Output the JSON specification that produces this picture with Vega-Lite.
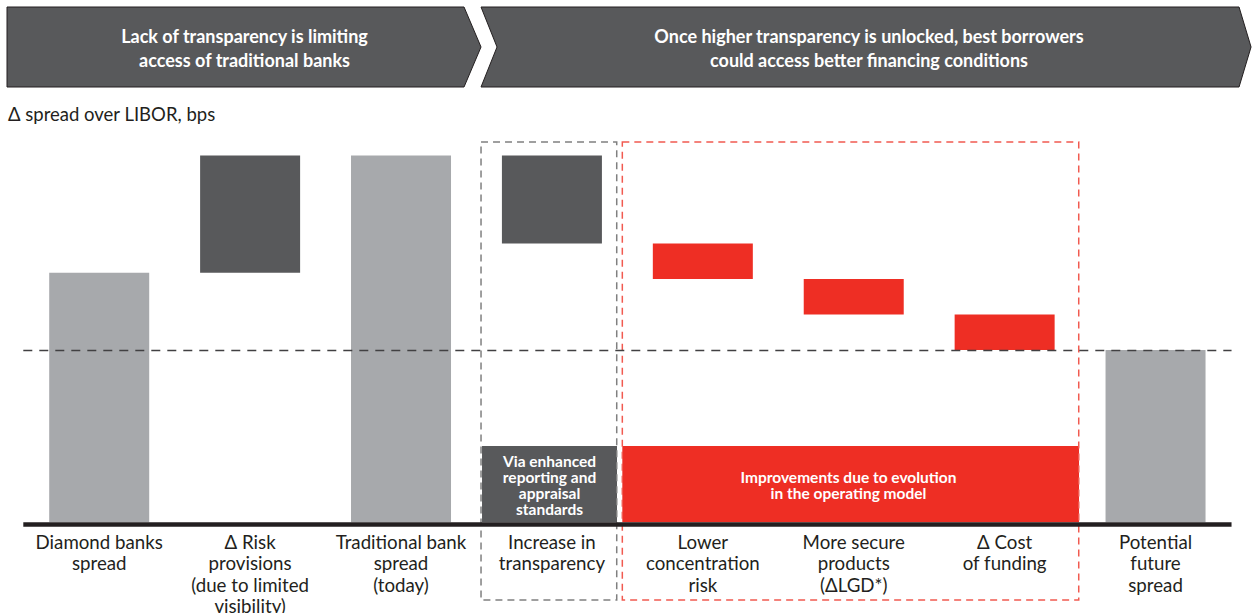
{
  "$schema": "https://vega.github.io/schema/vega-lite/v6.json",
  "width": 1252,
  "height": 613,
  "padding": 0,
  "autosize": {"type": "none"},
  "background": "white",
  "config": {"view": {"stroke": null}, "text": {"font": "Lato"}, "scale": {"continuousPadding": 0}},
  "datasets": {
    "cats": [
      {"col": 0, "label": "Diamond banks\nspread", "start": 0, "end": 204, "kind": "total"},
      {"col": 1, "label": "Δ Risk\nprovisions\n(due to limited\nvisibility)", "start": 204, "end": 300, "kind": "dark"},
      {"col": 2, "label": "Traditional bank\nspread\n(today)", "start": 0, "end": 300, "kind": "total"},
      {"col": 3, "label": "Increase in\ntransparency", "start": 300, "end": 228, "kind": "dark"},
      {"col": 4, "label": "Lower\nconcentration\nrisk", "start": 228, "end": 199, "kind": "red"},
      {"col": 5, "label": "More secure\nproducts\n(ΔLGD*)", "start": 199, "end": 170, "kind": "red"},
      {"col": 6, "label": "Δ Cost\nof  funding", "start": 170, "end": 141, "kind": "red"},
      {"col": 7, "label": "Potential\nfuture\nspread", "start": 0, "end": 141, "kind": "total"}
    ],
    "chevrons": [
      {"shape": "L", "y": 421.44, "x": -0.611, "x2": 2.4175},
      {"shape": "L", "y": 388.73, "x": -0.611, "x2": 2.5302},
      {"shape": "L", "y": 356.01, "x": -0.611, "x2": 2.4175},
      {"shape": "R", "y": 421.44, "x": 2.5302, "x2": 7.5533},
      {"shape": "R", "y": 388.73, "x": 2.6362, "x2": 7.6329},
      {"shape": "R", "y": 356.01, "x": 2.5302, "x2": 7.5533}
    ]
  },
  "layer": [
    {
      "data": {"name": "chevrons"},
      "mark": {"type": "area", "orient": "horizontal", "fill": "#58595b", "stroke": "#231f20", "strokeWidth": 1, "fillOpacity": 1},
      "encoding": {
        "y": {"field": "y", "type": "quantitative", "axis": null, "scale": {"domain": [-74.18, 427.17], "nice": false, "zero": false, "padding": 0}},
        "x": {"field": "x", "type": "quantitative", "axis": null, "scale": {"domain": [-0.6574, 7.6392], "nice": false, "zero": false, "padding": 0}},
        "x2": {"field": "x2"},
        "detail": {"field": "shape"}
      }
    },
    {
      "data": {"values": [{"t": "Lack of transparency is limiting\naccess of traditional banks"}]},
      "mark": {"type": "text", "lineBreak": "\n", "lineHeight": 24, "align": "center", "baseline": "middle", "fill": "white", "fontWeight": "bold", "fontSize": 18},
      "encoding": {
        "x": {"datum": 0.9629, "type": "quantitative", "axis": null, "scale": {"domain": [-0.6574, 7.6392], "nice": false, "zero": false, "padding": 0}},
        "y": {"datum": 396.1, "type": "quantitative", "axis": null, "scale": {"domain": [-74.18, 427.17], "nice": false, "zero": false, "padding": 0}},
        "text": {"field": "t"}
      }
    },
    {
      "data": {"values": [{"t": "Once higher transparency is unlocked, best borrowers\ncould access better financing conditions"}]},
      "mark": {"type": "text", "lineBreak": "\n", "lineHeight": 24, "align": "center", "baseline": "middle", "fill": "white", "fontWeight": "bold", "fontSize": 18},
      "encoding": {
        "x": {"datum": 5.1014, "type": "quantitative", "axis": null, "scale": {"domain": [-0.6574, 7.6392], "nice": false, "zero": false, "padding": 0}},
        "y": {"datum": 396.1, "type": "quantitative", "axis": null, "scale": {"domain": [-74.18, 427.17], "nice": false, "zero": false, "padding": 0}},
        "text": {"field": "t"}
      }
    },
    {
      "data": {"values": [{"t": "Δ spread over LIBOR, bps"}]},
      "mark": {"type": "text", "align": "left", "baseline": "middle", "fill": "#231f20", "fontSize": 18.5},
      "encoding": {
        "x": {"datum": -0.6044, "type": "quantitative", "axis": null, "scale": {"domain": [-0.6574, 7.6392], "nice": false, "zero": false, "padding": 0}},
        "y": {"datum": 333.11, "type": "quantitative", "axis": null, "scale": {"domain": [-74.18, 427.17], "nice": false, "zero": false, "padding": 0}},
        "text": {"field": "t"}
      }
    },
    {
      "data": {"values": [{"t": "Via enhanced\nreporting and\nappraisal\nstandards"}]},
      "mark": {"type": "rect", "fill": "#58595b"},
      "encoding": {
        "x": {"datum": 2.5368, "type": "quantitative", "axis": null, "scale": {"domain": [-0.6574, 7.6392], "nice": false, "zero": false, "padding": 0}},
        "x2": {"datum": 3.4314},
        "y": {"datum": 62.4, "type": "quantitative", "axis": null, "scale": {"domain": [-74.18, 427.17], "nice": false, "zero": false, "padding": 0}},
        "y2": {"datum": 0}
      }
    },
    {
      "data": {"values": [{"t": "Improvements due to evolution\nin the operating model"}]},
      "mark": {"type": "rect", "fill": "#ee2e24"},
      "encoding": {
        "x": {"datum": 3.4665, "type": "quantitative", "axis": null, "scale": {"domain": [-0.6574, 7.6392], "nice": false, "zero": false, "padding": 0}},
        "x2": {"datum": 6.493},
        "y": {"datum": 62.4, "type": "quantitative", "axis": null, "scale": {"domain": [-74.18, 427.17], "nice": false, "zero": false, "padding": 0}},
        "y2": {"datum": 0}
      }
    },
    {
      "data": {"values": [{"t": "Via enhanced\nreporting and\nappraisal\nstandards"}]},
      "mark": {"type": "text", "lineBreak": "\n", "lineHeight": 16, "align": "center", "baseline": "middle", "fill": "white", "fontWeight": "bold", "fontSize": 15.5},
      "encoding": {
        "x": {"datum": 2.9841, "type": "quantitative", "axis": null, "scale": {"domain": [-0.6574, 7.6392], "nice": false, "zero": false, "padding": 0}},
        "y": {"datum": 49.3, "type": "quantitative", "axis": null, "scale": {"domain": [-74.18, 427.17], "nice": false, "zero": false, "padding": 0}},
        "text": {"field": "t"}
      }
    },
    {
      "data": {"values": [{"t": "Improvements due to evolution\nin the operating model"}]},
      "mark": {"type": "text", "lineBreak": "\n", "lineHeight": 16, "align": "center", "baseline": "middle", "fill": "white", "fontWeight": "bold", "fontSize": 15.5},
      "encoding": {
        "x": {"datum": 4.965, "type": "quantitative", "axis": null, "scale": {"domain": [-0.6574, 7.6392], "nice": false, "zero": false, "padding": 0}},
        "y": {"datum": 36.2, "type": "quantitative", "axis": null, "scale": {"domain": [-74.18, 427.17], "nice": false, "zero": false, "padding": 0}},
        "text": {"field": "t"}
      }
    },
    {
      "data": {"name": "cats"},
      "mark": {"type": "bar", "width": 100},
      "encoding": {
        "x": {"field": "col", "type": "quantitative", "axis": null, "scale": {"domain": [-0.6574, 7.6392], "nice": false, "zero": false, "padding": 0}},
        "y": {"field": "start", "type": "quantitative", "axis": null, "scale": {"domain": [-74.18, 427.17], "nice": false, "zero": false, "padding": 0}},
        "y2": {"field": "end"},
        "color": {"field": "kind", "type": "nominal", "legend": null, "scale": {"domain": ["total", "dark", "red"], "range": ["#a7a9ac", "#58595b", "#ee2e24"]}}
      }
    },
    {
      "data": {"values": [{"t": "grey box"}]},
      "mark": {"type": "rect", "fillOpacity": 0, "stroke": "#808080", "strokeWidth": 1.5, "strokeDash": [7, 5]},
      "encoding": {
        "x": {"datum": 2.5302, "type": "quantitative", "axis": null, "scale": {"domain": [-0.6574, 7.6392], "nice": false, "zero": false, "padding": 0}},
        "x2": {"datum": 3.4294},
        "y": {"datum": 311.03, "type": "quantitative", "axis": null, "scale": {"domain": [-74.18, 427.17], "nice": false, "zero": false, "padding": 0}},
        "y2": {"datum": -63.55}
      }
    },
    {
      "data": {"values": [{"t": "red box"}]},
      "mark": {"type": "rect", "fillOpacity": 0, "stroke": "#f15a50", "strokeWidth": 1.5, "strokeDash": [7, 5]},
      "encoding": {
        "x": {"datum": 3.4665, "type": "quantitative", "axis": null, "scale": {"domain": [-0.6574, 7.6392], "nice": false, "zero": false, "padding": 0}},
        "x2": {"datum": 6.491},
        "y": {"datum": 311.03, "type": "quantitative", "axis": null, "scale": {"domain": [-74.18, 427.17], "nice": false, "zero": false, "padding": 0}},
        "y2": {"datum": -63.55}
      }
    },
    {
      "data": {"values": [{"t": "future level"}]},
      "mark": {"type": "rule", "stroke": "#414042", "strokeWidth": 1.5, "strokeDash": [9, 7]},
      "encoding": {
        "x": {"datum": -0.503, "type": "quantitative", "axis": null, "scale": {"domain": [-0.6574, 7.6392], "nice": false, "zero": false, "padding": 0}},
        "x2": {"datum": 7.5036},
        "y": {"datum": 140.5, "type": "quantitative", "axis": null, "scale": {"domain": [-74.18, 427.17], "nice": false, "zero": false, "padding": 0}}
      }
    },
    {
      "data": {"values": [{"t": "baseline"}]},
      "mark": {"type": "rule", "stroke": "#231f20", "strokeWidth": 4.5, "yOffset": 2.2},
      "encoding": {
        "x": {"datum": -0.503, "type": "quantitative", "axis": null, "scale": {"domain": [-0.6574, 7.6392], "nice": false, "zero": false, "padding": 0}},
        "x2": {"datum": 7.5036},
        "y": {"datum": 0, "type": "quantitative", "axis": null, "scale": {"domain": [-74.18, 427.17], "nice": false, "zero": false, "padding": 0}}
      }
    },
    {
      "data": {"name": "cats"},
      "mark": {"type": "text", "lineBreak": "\n", "lineHeight": 21.5, "align": "center", "baseline": "top", "fill": "#231f20", "fontSize": 18.7},
      "encoding": {
        "x": {"field": "col", "type": "quantitative", "axis": null, "scale": {"domain": [-0.6574, 7.6392], "nice": false, "zero": false, "padding": 0}},
        "y": {"datum": -9.4, "type": "quantitative", "axis": null, "scale": {"domain": [-74.18, 427.17], "nice": false, "zero": false, "padding": 0}},
        "text": {"field": "label"}
      }
    }
  ]
}
